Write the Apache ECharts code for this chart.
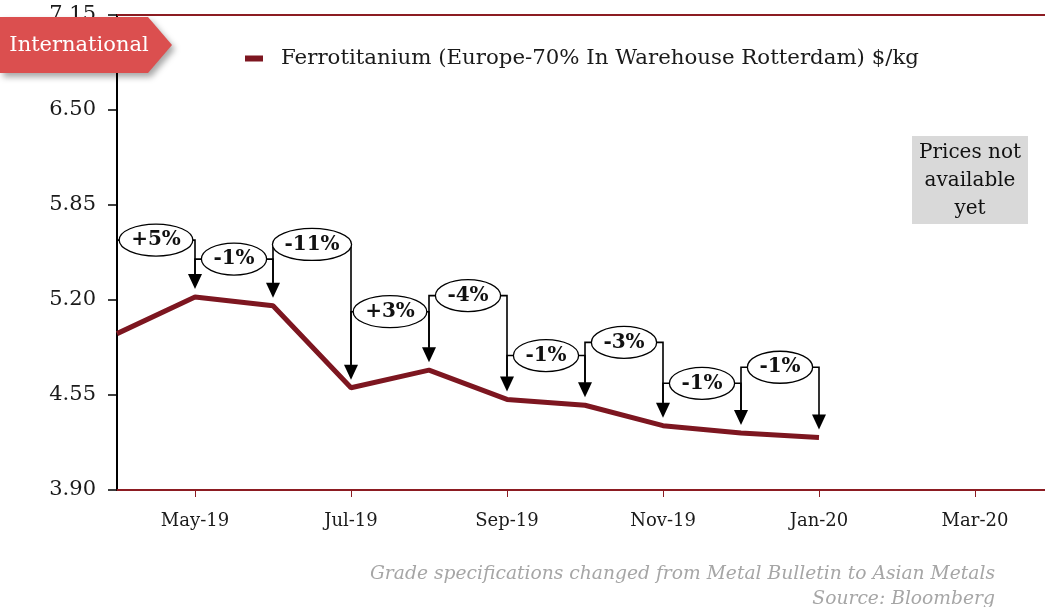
<!DOCTYPE html>
<html>
<head>
<meta charset="utf-8">
<script src="https://cdn.jsdelivr.net/npm/echarts@6/dist/echarts.min.js"></script>
<style>
  html, body { margin: 0; padding: 0; background: #fff; }
  #chart { width: 1045px; height: 607px; }
</style>
</head>
<body>
<div id="chart"></div>
<script>
// months on the axis (last one is only there so the axis runs to the edge)
const months = ['Apr-19', 'May-19', 'Jun-19', 'Jul-19', 'Aug-19', 'Sep-19', 'Oct-19', 'Nov-19', 'Dec-19', 'Jan-20', 'Feb-20', 'Mar-20', '']
// Ferrotitanium price, $/kg
const prices = [4.97, 5.22, 5.16, 4.60, 4.72, 4.52, 4.48, 4.34, 4.29, 4.26]
// month-on-month change labels and the height of each bracket (in $/kg)
const changeLabels = ['+5%', '-1%', '-11%', '+3%', '-4%', '-1%', '-3%', '-1%', '-1%']
const bracketLevels = [5.61, 5.48, 5.58, 5.12, 5.23, 4.82, 4.91, 4.63, 4.74]
const yTicks = [3.90, 4.55, 5.20, 5.85, 6.50, 7.15]

const FONT = 'DejaVu Serif'
const chart = echarts.init(document.getElementById('chart'))

// measure the text so the ellipses fit round it
const measureCtx = document.createElement('canvas').getContext('2d')
measureCtx.font = 'bold 20px "' + FONT + '"'
function textWidth (t) {
  return measureCtx.measureText(t).width
}

const bracketData = changeLabels.map((lbl, i) => [i, bracketLevels[i], lbl])

function renderBracket (params, api) {
  const i = api.value(0)
  const level = api.value(1)
  const lbl = changeLabels[i]
  const gap = 8
  const arrowH = 15
  const arrowW = 7
  const p0 = api.coord([i, prices[i]])
  const p1 = api.coord([i + 1, prices[i + 1]])
  const top0 = api.coord([i, level])
  const top1 = api.coord([i + 1, level])
  const tip = p1[1] - gap
  const leftEnd = p0[1] - gap - arrowH
  const midX = (top0[0] + top1[0]) / 2
  const rx = textWidth(lbl) / 2 + 12
  const ry = 16
  const lineStyle = { stroke: '#000', lineWidth: 1.6, fill: null }
  return {
    type: 'group',
    children: [
      {
        type: 'polyline',
        shape: { points: [[p0[0], Math.max(leftEnd, top0[1])], [top0[0], top0[1]], [top1[0], top1[1]], [top1[0], tip - arrowH + 1]] },
        style: lineStyle
      },
      {
        type: 'polygon',
        shape: { points: [[p1[0] - arrowW, tip - arrowH], [p1[0] + arrowW, tip - arrowH], [p1[0], tip]] },
        style: { fill: '#000' }
      },
      {
        type: 'ellipse',
        shape: { cx: midX, cy: top0[1], rx: rx, ry: ry },
        style: { fill: '#fff', stroke: '#000', lineWidth: 1.3 }
      },
      {
        type: 'text',
        x: midX,
        y: top0[1],
        style: {
          text: lbl,
          fontFamily: FONT,
          fontWeight: 'bold',
          fontSize: 20,
          fill: '#111',
          align: 'center',
          verticalAlign: 'middle'
        }
      }
    ]
  }
}

const option = {
  backgroundColor: '#fff',
  animation: false,
  grid: { left: 117, width: 936, top: 15, bottom: 117, outerBoundsMode: 'none', containLabel: false },
  legend: {
    left: 240,
    top: 43,
    icon: 'rect',
    itemWidth: 18,
    itemHeight: 6,
    itemGap: 10,
    textStyle: { fontFamily: FONT, fontSize: 21.3, color: '#1a1a1a', padding: [0, 0, 0, 13] },
    data: ['Ferrotitanium (Europe-70% In Warehouse Rotterdam) $/kg']
  },
  xAxis: [
    {
      type: 'category',
      data: months,
      boundaryGap: false,
      axisLine: { lineStyle: { color: '#8c1c22', width: 2 } },
      axisTick: {
        length: 7,
        interval: (idx) => idx % 2 === 1,
        lineStyle: { color: '#8c1c22', width: 1 }
      },
      axisLabel: {
        interval: (idx) => idx % 2 === 1,
        margin: 22,
        fontFamily: FONT,
        fontSize: 18,
        color: '#1a1a1a'
      },
      splitLine: { show: false }
    },
    {
      type: 'category',
      data: months,
      position: 'top',
      boundaryGap: false,
      axisLine: { lineStyle: { color: '#8c1c22', width: 2 } },
      axisTick: { show: false },
      axisLabel: { show: false }
    }
  ],
  yAxis: {
    type: 'value',
    min: yTicks[0],
    max: yTicks[yTicks.length - 1],
    interval: 0.65,
    axisLine: { show: true, lineStyle: { color: '#000', width: 2 } },
    axisTick: { show: true, length: 9, lineStyle: { color: '#000', width: 1.5 } },
    axisLabel: {
      margin: 21,
      fontFamily: FONT,
      fontSize: 21,
      color: '#1a1a1a',
      formatter: (v) => v.toFixed(2)
    },
    splitLine: { show: false }
  },
  series: [
    {
      name: 'Ferrotitanium (Europe-70% In Warehouse Rotterdam) $/kg',
      type: 'line',
      data: prices,
      symbol: 'none',
      lineStyle: { color: '#7d1620', width: 5 },
      itemStyle: { color: '#7d1620' },
      z: 3
    },
    {
      type: 'custom',
      renderItem: renderBracket,
      data: bracketData,
      encode: { x: 0, y: 1 },
      silent: true,
      clip: false,
      z: 4
    }
  ],
  graphic: [
    {
      type: 'polygon',
      shape: { points: [[0, 17], [148, 17], [172, 45], [148, 73], [0, 73]] },
      style: {
        fill: '#db4f4f',
        shadowBlur: 6,
        shadowOffsetX: 3,
        shadowOffsetY: 4,
        shadowColor: 'rgba(0,0,0,0.35)'
      },
      z: 100
    },
    {
      type: 'text',
      x: 79,
      y: 46,
      style: {
        text: 'International',
        fontFamily: FONT,
        fontSize: 21,
        fill: '#fff',
        align: 'center',
        verticalAlign: 'middle'
      },
      z: 101
    },
    {
      type: 'rect',
      shape: { x: 912, y: 136, width: 116, height: 88 },
      style: { fill: '#d9d9d9' },
      z: 50
    },
    {
      type: 'text',
      x: 970,
      y: 181,
      style: {
        text: 'Prices not\navailable\nyet',
        fontFamily: FONT,
        fontSize: 20,
        lineHeight: 28,
        fill: '#111',
        align: 'center',
        verticalAlign: 'middle'
      },
      z: 51
    },
    {
      type: 'text',
      right: 50,
      top: 565,
      style: {
        text: 'Grade specifications changed from Metal Bulletin to Asian Metals',
        fontFamily: FONT,
        fontStyle: 'italic',
        fontSize: 18.7,
        fill: '#a6a6a6'
      }
    },
    {
      type: 'text',
      right: 50,
      top: 590,
      style: {
        text: 'Source: Bloomberg',
        fontFamily: FONT,
        fontStyle: 'italic',
        fontSize: 18.7,
        fill: '#a6a6a6'
      }
    }
  ]
}

chart.setOption(option)
</script>
</body>
</html>
